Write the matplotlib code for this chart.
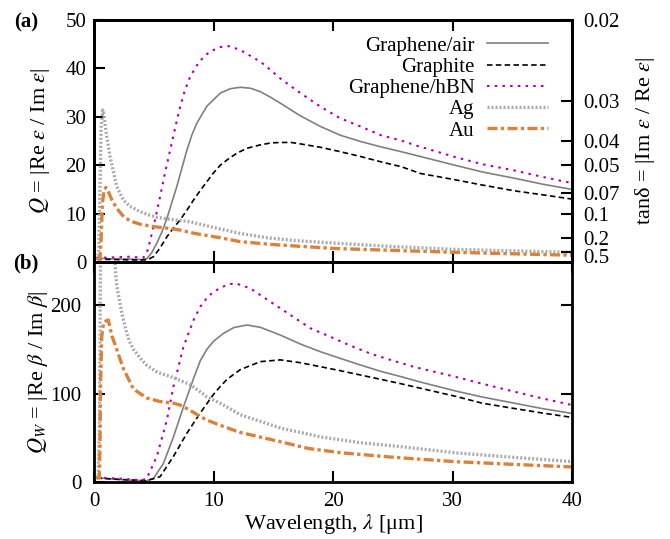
import numpy as np
import matplotlib
matplotlib.use('Agg')
import matplotlib.pyplot as plt
from matplotlib.transforms import ScaledTranslation

# ---- data ----
# (a) Q = |Re eps / Im eps|
lam_air_a = [0.2, 1, 2, 3, 4, 4.42, 4.8, 5.26, 5.7, 6.1, 6.93, 7.77, 8.2, 8.61, 9.45, 10.57, 11.4, 12.24, 13.1, 13.92,
             14.8, 15.6, 17.27, 18.95, 20.6, 22.3, 24.0, 25.7, 27.3, 30.2, 32.5, 35.2, 37.5, 40]
q_air = [0.8, 0.7, 0.6, 0.6, 0.5, 0.7, 1.8, 3.9, 6.3, 9.0, 15.6, 23.1, 26.3, 28.7, 32.2, 34.9, 35.8, 36.1, 35.9, 35.2,
         34.0, 32.8, 30.2, 28.0, 26.2, 24.9, 23.8, 22.8, 21.8, 20.0, 18.6, 17.3, 16.1, 15.0]

lam_gr_a = [0.2, 2, 4, 4.5, 4.98, 5.5, 6.1, 6.6, 7.21, 7.8, 8.33, 8.9, 9.45, 10.0, 10.57, 11.3, 11.97, 12.8, 13.92,
            14.8, 15.6, 16.5, 17.27, 18.95, 20.6, 22.3, 24.0, 25.7, 27.3, 30.2, 32.5, 35.2, 37.5, 40]
q_gr = [0.6, 0.5, 0.4, 0.5, 1.1, 2.8, 5.2, 6.9, 8.7, 10.8, 12.8, 14.8, 16.6, 18.4, 20.0, 21.4, 22.5, 23.5, 24.2,
        24.6, 24.7, 24.7, 24.4, 23.7, 22.8, 21.8, 20.7, 19.7, 18.3, 17.0, 15.9, 14.7, 13.9, 13.0]

lam_bn_a = [0.2, 1, 2, 3, 3.5, 4.14, 4.5, 4.98, 5.53, 5.95, 6.37, 6.8, 7.21, 7.6, 8.05, 8.6, 9.17, 9.73, 10.57,
            11.3, 12.24, 13.08, 13.92, 14.76, 15.6, 17.27, 18.95, 20.6, 22.3, 24.0, 25.7, 27.05, 30.2, 32.5, 35.2,
            37.5, 40]
q_bn = [0.9, 0.9, 1.0, 1.1, 1.0, 0.9, 2.5, 7.3, 13.5, 18.5, 23.1, 27.8, 32.1, 35.4, 38.3, 40.6, 42.4, 43.5, 44.4,
        44.6, 43.8, 42.6, 41.4, 39.7, 37.9, 34.9, 32.1, 29.7, 28.0, 26.2, 25.1, 24.0, 21.7, 20.2, 18.9,
        17.6, 16.3]

lam_ag_a = [0.25, 0.4, 0.5, 0.6, 0.73, 0.85, 1.0, 1.34, 1.9, 2.46, 3.0, 3.86, 4.5, 5.3, 6.5, 8.05, 8.9, 10.6,
            12.24, 14.5, 17, 20.1, 25, 30.2, 35, 40]
q_ag = [0.5, 2.0, 15.0, 28.0, 31.4, 30.2, 27.0, 21.8, 15.6, 12.8, 11.5, 10.4, 9.8, 9.2, 8.8, 8.3, 7.8, 6.8,
        5.9, 5.0, 4.4, 3.9, 3.2, 2.6, 2.3, 2.0]

lam_au_a = [0.3, 0.5, 0.6, 0.7, 0.85, 1.0, 1.2, 1.5, 1.9, 2.4, 3.0, 3.86, 5.0, 6.1, 7.2, 8.05, 8.9, 10.6, 12.24,
            15, 17.5, 20.1, 25, 30.2, 35, 40]
q_au = [0.3, 0.5, 5.0, 12.0, 15.0, 15.4, 14.5, 12.8, 11.1, 9.6, 8.5, 7.8, 7.3, 7.0, 6.6, 6.1, 5.7, 5.0, 4.2,
        3.6, 3.2, 2.8, 2.4, 2.0, 1.7, 1.4]

# (b) Q_W = |Re beta / Im beta|
lam_air_b = [0.2, 1, 2, 3, 4.4, 4.98, 5.81, 6.65, 7.49, 8.33, 8.89, 9.45, 10.0, 10.84, 11.69, 12.8, 13.92, 15.6,
             17.27, 18.95, 20.6, 22.3, 24.0, 25.7, 27.3, 30.2, 32.5, 35.2, 37.5, 40]
qw_air = [5, 4, 3, 2, 1.5, 4, 21, 51, 85, 117, 137, 150, 159, 168, 174.5, 177.4, 174.8, 166,
          155.9, 147.2, 139.7, 132.2, 125, 119, 113, 103, 96, 89, 83, 77.5]

lam_gr_b = [0.2, 2, 4.4, 5.53, 6.65, 7.77, 8.89, 10.0, 10.57, 11.13, 12.24, 13.92, 15.6, 17.27, 18.95, 20.6, 22.3,
            24.0, 25.7, 27.3, 30.2, 32.5, 35.2, 37.5, 40]
qw_gr = [4.5, 3, 1.5, 6, 29, 55, 78, 99, 108, 116, 127, 136, 138, 134.8, 130.3, 125.8, 120.9,
         116, 111, 106, 97, 89, 83, 78, 73]

lam_bn_b = [0.2, 1, 2, 3, 4.0, 4.42, 5.26, 6.1, 6.65, 7.49, 8.33, 8.89, 9.45, 10.0, 10.84, 11.41, 11.97, 13.08,
            14.76, 16.44, 18.11, 19.79, 21.47, 23.15, 24.8, 26.8, 30.2, 32.5, 35.2, 37.5, 40]
qw_bn = [5, 4.5, 4, 3, 2, 4, 29, 70, 108, 153, 183, 198, 208, 215, 221, 223.7, 224, 218.8,
         203.7, 188.7, 173.7, 164, 154, 145, 138, 130, 119, 111, 102, 94.5, 87]

lam_ag_b = [0.2, 0.35, 0.45, 0.5, 0.55, 0.6, 1.0, 1.5, 1.75, 1.9, 2.2, 2.46, 2.75, 3.0, 3.3, 3.86, 4.4, 5.3, 6.65,
            8.05, 8.89, 9.45, 10.57, 12.24, 15.6, 18.95, 22.3, 25.7, 30.2, 35, 40]
qw_ag = [4, 5, 60, 150, 260, 300, 330, 265, 248, 222, 200, 183, 168, 158, 150, 140, 132, 124, 118,
         110, 102, 96, 89, 76, 61, 51, 44.4, 39.9, 33, 28, 23]

lam_au_b = [0.2, 0.45, 0.5, 0.55, 0.65, 0.8, 1.0, 1.2, 1.5, 1.9, 2.46, 3.3, 3.86, 4.4, 5.5, 6.65, 7.2, 8.05, 8.89,
            9.45, 10.57, 12.24, 15.6, 17.9, 20.7, 25, 30.2, 35, 40]
qw_au = [5, 4.5, 40, 110, 165, 180, 182, 183, 165, 150, 128, 105, 100, 95, 91, 89, 87, 81, 74,
         70, 64, 56, 45.5, 38, 33, 28, 23, 20, 17]

tan_ticks = [0.02, 0.03, 0.04, 0.05, 0.07, 0.1, 0.2, 0.5]

# ---- style ----
plt.rcParams['font.family'] = ['Liberation Serif', 'DejaVu Serif']
plt.rcParams['mathtext.fontset'] = 'stix'
plt.rcParams['font.size'] = 15

styles = {
    'Graphene/air': dict(color='#808080', lw=1.2, ls='-'),
    'Graphite': dict(color='black', lw=1.2, ls=(0, (3.3, 2))),
    'Graphene/hBN': dict(color='#b000b0', lw=1.5, ls=(0, (1.2, 2.5))),
    'Ag': dict(color='#aaaaaa', lw=2.4, ls=(0, (0.6, 0.6))),
    'Au': dict(color='#d9823b', lw=2.4, ls=(0, (3, 1, 1, 1))),
}

fig = plt.figure(figsize=(6.7, 5.39), dpi=100)
ax1 = fig.add_axes([94 / 670, 1 - 262 / 539, 478 / 670, 242 / 539])
ax2 = fig.add_axes([94 / 670, 1 - 482 / 539, 478 / 670, 220 / 539])

ax1.plot(lam_air_a, q_air, label='Graphene/air', **styles['Graphene/air'])
ax1.plot(lam_gr_a, q_gr, label='Graphite', **styles['Graphite'])
ax1.plot(lam_bn_a, q_bn, label='Graphene/hBN', **styles['Graphene/hBN'])
ax1.plot(lam_ag_a, q_ag, label='Ag', **styles['Ag'])
ax1.plot(lam_au_a, q_au, label='Au', **styles['Au'])

ax2.plot(lam_air_b, qw_air, **styles['Graphene/air'])
ax2.plot(lam_gr_b, qw_gr, **styles['Graphite'])
ax2.plot(lam_bn_b, qw_bn, **styles['Graphene/hBN'])
ax2.plot(lam_ag_b, qw_ag, **styles['Ag'])
ax2.plot(lam_au_b, qw_au, **styles['Au'])

for ax in (ax1, ax2):
    ax.set_xlim(0, 40)
    ax.set_xticks([0, 10, 20, 30, 40])
    for s in ax.spines.values():
        s.set_linewidth(2.0)
    ax.tick_params(direction='in', length=8, width=1.5, top=True, labelsize=15)

ax1.set_ylim(0, 50)
ax1.set_yticks([0, 10, 20, 30, 40, 50])
ax1.tick_params(labelbottom=False, right=False)
ax1.tick_params(axis='y', pad=5.5)
ax1.set_ylabel(r'$Q$ = |Re $\epsilon$ / Im $\epsilon$|', fontsize=16)
ax1.yaxis.label.set_va('center')
ax1.yaxis.set_label_coords(-0.113, 0.5)

tw = ax1.twinx()
tw.set_ylim(0, 50)
tw.tick_params(direction='in', length=8, width=1.5, labelsize=15, pad=8)
tw.set_yticks([1 / t for t in tan_ticks])
tw.set_yticklabels([('%g' % t) for t in tan_ticks])
for s in tw.spines.values():
    s.set_linewidth(2.0)
tw.set_ylabel('tanδ = |Im $\\epsilon$ / Re $\\epsilon$|', fontsize=16)
tw.yaxis.label.set_va('center')
tw.yaxis.set_label_coords(1.153, 0.5)
# the 0.5 label sits a little lower in the reference
lab = tw.get_yticklabels()[-1]
lab.set_transform(lab.get_transform() + ScaledTranslation(0, -3 / 72, fig.dpi_scale_trans))

ax2.set_ylim(0, 248.6)
ax2.set_yticks([0, 100, 200])
ax2.tick_params(right=True)
ax2.tick_params(axis='y', pad=9)
ax2.tick_params(axis='x', pad=7.5)
ax2.set_ylabel(r'$Q_W$ = |Re $\beta$ / Im $\beta$|', fontsize=16)
ax2.yaxis.label.set_va('center')
ax2.yaxis.set_label_coords(-0.117, 0.5)
ax2.set_xlabel(r'Wavelength, $\lambda$ [μm]', fontsize=16, labelpad=0.5)

ax1.legend(loc='upper right', bbox_to_anchor=(0.975, 0.985), frameon=False, markerfirst=False,
           handlelength=2.9, labelspacing=0.08, handletextpad=0.6, fontsize=15, borderaxespad=0.2)

fig.text(26 / 670, 1 - 22 / 539, '(a)', fontsize=15, fontweight='bold', ha='center', va='center')
fig.text(26 / 670, 1 - 263 / 539, '(b)', fontsize=15, fontweight='bold', ha='center', va='center')

fig.savefig('out.png', dpi=100)
